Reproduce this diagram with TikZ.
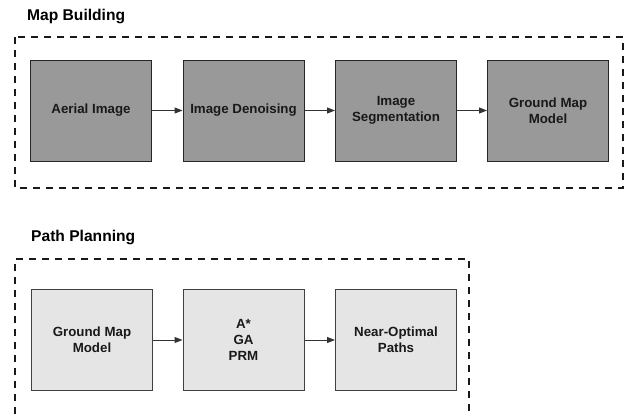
\documentclass[tikz,border=0pt]{standalone}
\usepackage{fontspec}
\setmainfont{Liberation Sans}
\usetikzlibrary{arrows.meta}

\begin{document}
\begin{tikzpicture}[x=1pt,y=-1pt,
  stage/.style={line width=1pt, minimum width=121pt, minimum height=101pt,
    inner sep=0pt, font=\fontsize{13.3}{16.3}\selectfont\bfseries,
    text=black!90, align=center},
  darkstage/.style={stage, draw=black!85, fill=black!40},
  lightstage/.style={stage, draw=black!75, fill=black!10},
  heading/.style={anchor=west, inner sep=0pt, font=\fontsize{15.6}{18}\selectfont\bfseries},
  group/.style={line width=2.4pt, dash pattern=on 7pt off 6pt, black!90},
  flow/.style={draw=black!80, line width=1pt, -{Triangle[length=8pt,width=6pt]}}]

  % canvas
  \fill[white] (0,0) rectangle (633,414);

  % ---- Map Building ----
  \node[heading] (mbtitle) at (27,16) {Map Building};
  \draw[group] (15,37) rectangle (623,188);

  \node[darkstage] (aerial)  at (91,110.5)  {Aerial Image};
  \node[darkstage] (denoise) at (243.5,110.5) {Image Denoising};
  \node[darkstage] (segment) at (396,110.5) {Image\\Segmentation};
  \node[darkstage] (gmm)     at (548,110.5) {Ground Map\\Model};

  \draw[flow] (aerial) -- (denoise);
  \draw[flow] (denoise) -- (segment);
  \draw[flow] (segment) -- (gmm);

  % ---- Path Planning ----
  \node[heading] (pptitle) at (31,237) {Path Planning};
  \draw[group] (15,414) -- (15,259) -- (469,259) -- (469,414);

  \node[lightstage] (gmm2)  at (92,340)    {Ground Map\\Model};
  \node[lightstage] (algos) at (243.5,340) {A*\\GA\\PRM};
  \node[lightstage] (paths) at (396,340)   {Near-Optimal\\Paths};

  \draw[flow] (gmm2) -- (algos);
  \draw[flow] (algos) -- (paths);
\end{tikzpicture}
\end{document}
